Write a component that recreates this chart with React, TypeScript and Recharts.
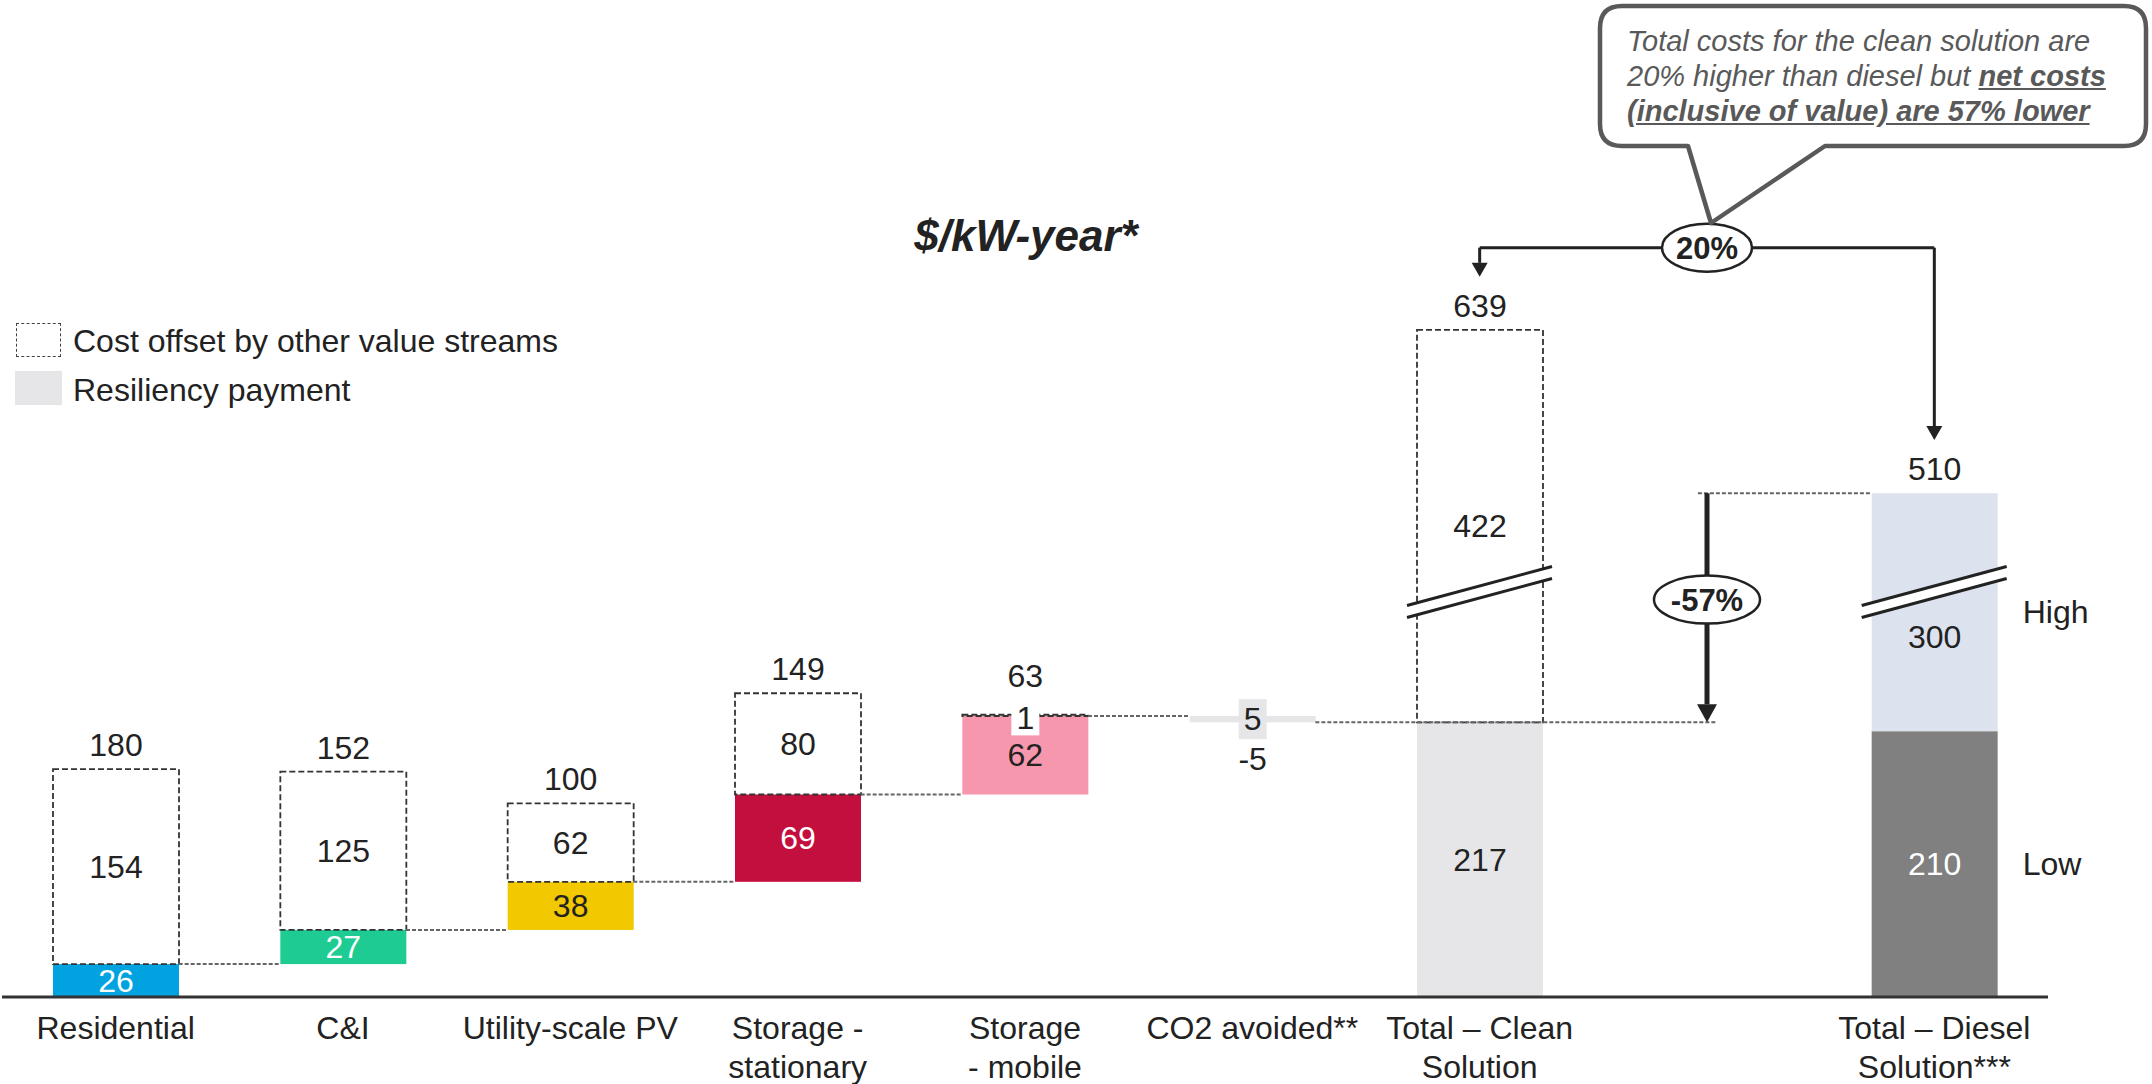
import React from 'react';
import { ComposedChart, Bar, XAxis, YAxis, ReferenceLine, ReferenceDot } from 'recharts';

// ---- data ----
const categories = [
  'Residential',
  'C&I',
  'Utility-scale PV',
  'Storage - stationary',
  'Storage - mobile',
  'CO2 avoided**',
  'Total – Clean Solution',
  '',
  'Total – Diesel Solution***',
];
const tickLines: string[][] = [
  ['Residential'],
  ['C&I'],
  ['Utility-scale PV'],
  ['Storage -', 'stationary'],
  ['Storage', '- mobile'],
  ['CO2 avoided**'],
  ['Total – Clean', 'Solution'],
  [],
  ['Total – Diesel', 'Solution***'],
];
const kinds = ['step', 'step', 'step', 'step', 'step', 'step', 'total', 'gap', 'total'];
const costValues: (number | null)[] = [26, 27, 38, 69, 62, -5, 217, null, 210];
const offsetValues: (number | null)[] = [154, 125, 62, 80, 1, null, 422, null, 300];
const costColors = ['#00a3e0', '#1ecb93', '#f2c800', '#c30f3e', '#f797ad', '#e6e6e8', '#e6e6e8', '', '#808080'];
const costInk = ['#fff', '#fff', '#222', '#fff', '#222', '#222', '#222', '', '#fff'];
const offsetFills = ['none', 'none', 'none', 'none', 'none', 'none', 'none', 'none', '#dde3ee'];
const offsetDashed = [true, true, true, true, true, false, true, false, false];
const sideNotes: (string[] | null)[] = [null, null, null, null, null, null, null, null, ['Low', 'High']];

// ---- layout ----
const W = 2152;
const H = 1084;
const M = { top: 111, right: 104, bottom: 0, left: 2 };
const X_AXIS_H = 87;
const Y_MAX = 700;
const BAR_W = 126;
const SLOT = (W - M.left - M.right) / categories.length;
const HALF = BAR_W / 2 / SLOT;
const FONT = '"Liberation Sans", Arial, sans-serif';
const INK = '#222';
const FS = 32;

// broken axis: values above the cut lose BREAK_GAP units
const BREAK_AT = 320;
const BREAK_GAP = 112;
const shown = (v: number) => (v > BREAK_AT + BREAK_GAP ? v - BREAK_GAP : v);

let running = 0;
const rows = categories.map((name, i) => {
  const c = costValues[i];
  const o = offsetValues[i];
  if (c == null) return { pos: i, i, name, base: null, main: null, extra: null, total: null };
  if (kinds[i] === 'total') {
    const t = c + (o ?? 0);
    return { pos: i, i, name, base: 0, main: c, extra: shown(t) - c, total: t };
  }
  const from = running;
  running += c;
  return { pos: i, i, name, base: Math.min(from, running), main: Math.abs(c), extra: o ?? 0, total: o != null ? c + o : null };
});

const GAP_SLOT = kinds.indexOf('gap');
const connectors: { y: number; x1: number; x2: number }[] = [];
{
  let level = 0;
  kinds.forEach((k, i) => {
    if (k !== 'step') return;
    level += costValues[i] as number;
    connectors.push({ y: level, x1: i + HALF, x2: kinds[i + 1] === 'step' ? i + 1 - HALF : GAP_SLOT + 0.04 });
  });
}

const cleanIdx = 6;
const dieselIdx = 8;
const cleanTotal = rows[cleanIdx].total as number;
const dieselTotal = rows[dieselIdx].total as number;
const cleanNet = costValues[cleanIdx] as number;
const upPct = Math.round(((cleanTotal - dieselTotal) / cleanTotal) * 100);
const downPct = Math.round(((cleanNet - dieselTotal) / dieselTotal) * 100);
const BRACKET_Y = 592;
const ARROW_GAP = 42;
const DROP_BADGE_Y = 314;

const CostShape = (p: any) => {
  const { x, y, width, height, payload } = p;
  if (!payload || payload.main == null) return null;
  const i = payload.i;
  const c = costValues[i] as number;
  const cx = x + width / 2;
  const cy = y + height / 2;
  const note = sideNotes[i];
  return (
    <g>
      <rect x={x} y={y} width={width} height={height} fill={costColors[i]} />
      {c < 0 ? (
        <g>
          <rect x={cx - 14} y={cy - 20} width={28} height={40} fill={costColors[i]} />
          <text x={cx} y={cy + 11} textAnchor="middle" fontSize={FS} fill={INK}>{Math.abs(c)}</text>
          <text x={cx} y={y + height + 48} textAnchor="middle" fontSize={FS} fill={INK}>{c}</text>
        </g>
      ) : (
        <text x={cx} y={cy + 11} textAnchor="middle" fontSize={FS} fill={costInk[i]}>{c}</text>
      )}
      {note && (
        <text x={x + width + 25} y={cy + 11} fontSize={FS} fill={INK}>{note[0]}</text>
      )}
    </g>
  );
};

const OffsetShape = (p: any) => {
  const { x, y, width, height, payload } = p;
  if (!payload || !payload.extra || payload.extra <= 0) return null;
  const i = payload.i;
  const cx = x + width / 2;
  const small = height < 20;
  let breakY: number | null = null;
  if (kinds[i] === 'total') {
    const lo = payload.main;
    const hi = lo + payload.extra;
    if (hi > BREAK_AT) breakY = y + (height * (hi - BREAK_AT)) / (hi - lo);
  }
  let ly = y + height / 2;
  if (breakY != null && Math.abs(ly - breakY) < 35) ly = breakY + 45;
  const note = sideNotes[i];
  const xl = x - 10;
  const xr = x + width + 9;
  const rise = 19.5;
  return (
    <g>
      <rect
        x={x}
        y={y}
        width={width}
        height={height}
        fill={offsetFills[i]}
        stroke={offsetDashed[i] ? '#333' : 'none'}
        strokeWidth={1.8}
        strokeDasharray="6 3"
      />
      {breakY != null && (
        <g>
          <polygon
            points={`${xl},${breakY + rise - 6} ${xr},${breakY - rise - 6} ${xr},${breakY - rise + 6} ${xl},${breakY + rise + 6}`}
            fill="#fff"
          />
          <line x1={xl} y1={breakY + rise - 6} x2={xr} y2={breakY - rise - 6} stroke={INK} strokeWidth={3} />
          <line x1={xl} y1={breakY + rise + 6} x2={xr} y2={breakY - rise + 6} stroke={INK} strokeWidth={3} />
        </g>
      )}
      {small ? (
        <g>
          <rect x={cx - 14} y={y + height / 2 - 12} width={28} height={32} fill="#fff" />
          <text x={cx} y={y + height / 2 + 14} textAnchor="middle" fontSize={FS} fill={INK}>{offsetValues[i]}</text>
        </g>
      ) : (
        <text x={cx} y={ly + 11} textAnchor="middle" fontSize={FS} fill={INK}>{offsetValues[i]}</text>
      )}
      {payload.total != null && (
        <text x={cx} y={y - (small ? 39 : 24) + 11} textAnchor="middle" fontSize={FS} fill={INK}>{payload.total}</text>
      )}
      {note && (
        <text x={x + width + 25} y={y + height / 2 + 11} fontSize={FS} fill={INK}>{note[1]}</text>
      )}
    </g>
  );
};

const CategoryTick = (p: any) => {
  const lines = tickLines[p.payload?.value] ?? [];
  return (
    <g>
      {lines.map((t, k) => (
        <text key={k} x={p.x} y={p.y + 42 + k * 39} textAnchor="middle" fontSize={FS} fill={INK}>{t}</text>
      ))}
    </g>
  );
};

const arrowLine = (w: number, head: number, headW: number) => (p: any) => {
  const { x1, y1, x2, y2 } = p;
  const dir = Math.sign(y2 - y1) || 1;
  return (
    <g>
      <line x1={x1} y1={y1} x2={x2} y2={y2 - dir * head} stroke={INK} strokeWidth={w} />
      <polygon points={`${x2 - headW / 2},${y2 - dir * head} ${x2 + headW / 2},${y2 - dir * head} ${x2},${y2}`} fill={INK} />
    </g>
  );
};

const badge = (text: string, rx: number) => (p: any) => (
  <g>
    <ellipse cx={p.cx} cy={p.cy} rx={rx} ry={24} fill="#fff" stroke={INK} strokeWidth={2.5} />
    <text x={p.cx} y={p.cy + 11} textAnchor="middle" fontSize={31} fontWeight="bold" fill={INK}>{text}</text>
  </g>
);

export default function App() {
  const cleanTop = shown(cleanTotal);
  const dieselTop = shown(dieselTotal);
  return (
    <div style={{ position: 'relative', width: W, height: H, fontFamily: FONT, color: INK, background: '#fff', overflow: 'hidden' }}>
      <style>{'body{margin:0}'}</style>
      <ComposedChart width={W} height={H} data={rows} margin={M}>
        <XAxis
          type="number"
          dataKey="pos"
          domain={[-0.5, categories.length - 0.5]}
          ticks={categories.map((_, i) => i)}
          interval={0}
          height={X_AXIS_H}
          tickLine={false}
          tickSize={0}
          tickMargin={0}
          axisLine={{ stroke: '#333', strokeWidth: 3 }}
          tick={CategoryTick}
        />
        <YAxis hide domain={[0, Y_MAX]} />
        <Bar dataKey="base" stackId="w" fill="none" barSize={BAR_W} isAnimationActive={false} />
        <Bar dataKey="main" stackId="w" barSize={BAR_W} shape={CostShape} isAnimationActive={false} />
        <Bar dataKey="extra" stackId="w" barSize={BAR_W} shape={OffsetShape} isAnimationActive={false} />

        {connectors.map((c, k) => (
          <ReferenceLine
            key={k}
            segment={[{ x: c.x1, y: c.y }, { x: c.x2, y: c.y }]}
            stroke="#666"
            strokeWidth={2}
            strokeDasharray="4 2"
          />
        ))}
        <ReferenceLine
          segment={[{ x: GAP_SLOT - 0.04, y: dieselTop }, { x: dieselIdx - HALF, y: dieselTop }]}
          stroke="#666"
          strokeWidth={2}
          strokeDasharray="4 2"
        />

        {/* 20% bracket */}
        <ReferenceLine segment={[{ x: cleanIdx, y: BRACKET_Y }, { x: dieselIdx, y: BRACKET_Y }]} stroke={INK} strokeWidth={3} />
        <ReferenceLine
          segment={[{ x: cleanIdx, y: BRACKET_Y }, { x: cleanIdx, y: cleanTop + ARROW_GAP }]}
          shape={arrowLine(3, 14, 16)}
        />
        <ReferenceLine
          segment={[{ x: dieselIdx, y: BRACKET_Y }, { x: dieselIdx, y: dieselTop + ARROW_GAP }]}
          shape={arrowLine(3, 14, 16)}
        />
        <ReferenceDot x={GAP_SLOT} y={BRACKET_Y} shape={badge(`${upPct}%`, 45)} />

        {/* -57% drop */}
        <ReferenceLine
          segment={[{ x: GAP_SLOT, y: dieselTop }, { x: GAP_SLOT, y: cleanNet }]}
          shape={arrowLine(5, 18, 20)}
        />
        <ReferenceDot x={GAP_SLOT} y={DROP_BADGE_Y} shape={badge(`${downPct}%`, 53)} />
      </ComposedChart>

      {/* unit title */}
      <div
        style={{
          position: 'absolute',
          left: 1026,
          top: 236,
          transform: 'translate(-50%, -50%)',
          fontSize: 44,
          fontWeight: 'bold',
          fontStyle: 'italic',
          lineHeight: 1,
          whiteSpace: 'nowrap',
        }}
      >
        $/kW-year*
      </div>

      {/* legend */}
      <div style={{ position: 'absolute', left: 16, top: 323, width: 43, height: 32, border: '1.5px dashed #444' }} />
      <div style={{ position: 'absolute', left: 73, top: 341, transform: 'translateY(-50%)', fontSize: FS, lineHeight: 1, whiteSpace: 'nowrap' }}>
        Cost offset by other value streams
      </div>
      <div style={{ position: 'absolute', left: 15, top: 371, width: 47, height: 34, background: '#e6e6e8' }} />
      <div style={{ position: 'absolute', left: 73, top: 390, transform: 'translateY(-50%)', fontSize: FS, lineHeight: 1, whiteSpace: 'nowrap' }}>
        Resiliency payment
      </div>

      {/* callout */}
      <svg style={{ position: 'absolute', left: 0, top: 0 }} width={W} height={240}>
        <path
          d="M1622,6 H2124 Q2146,6 2146,28 V124 Q2146,146 2124,146 H1825 L1711,223 L1688,146 H1622 Q1600,146 1600,124 V28 Q1600,6 1622,6 Z"
          fill="#fff"
          stroke="#595959"
          strokeWidth={4.5}
          strokeLinejoin="round"
        />
      </svg>
      <div
        style={{
          position: 'absolute',
          left: 1627,
          top: 24,
          fontSize: 29,
          fontStyle: 'italic',
          lineHeight: '35px',
          color: '#595959',
          whiteSpace: 'nowrap',
        }}
      >
        Total costs for the clean solution are
        <br />
        20% higher than diesel but <b><u>net costs</u></b>
        <br />
        <b><u>(inclusive of value) are 57% lower</u></b>
      </div>
    </div>
  );
}
